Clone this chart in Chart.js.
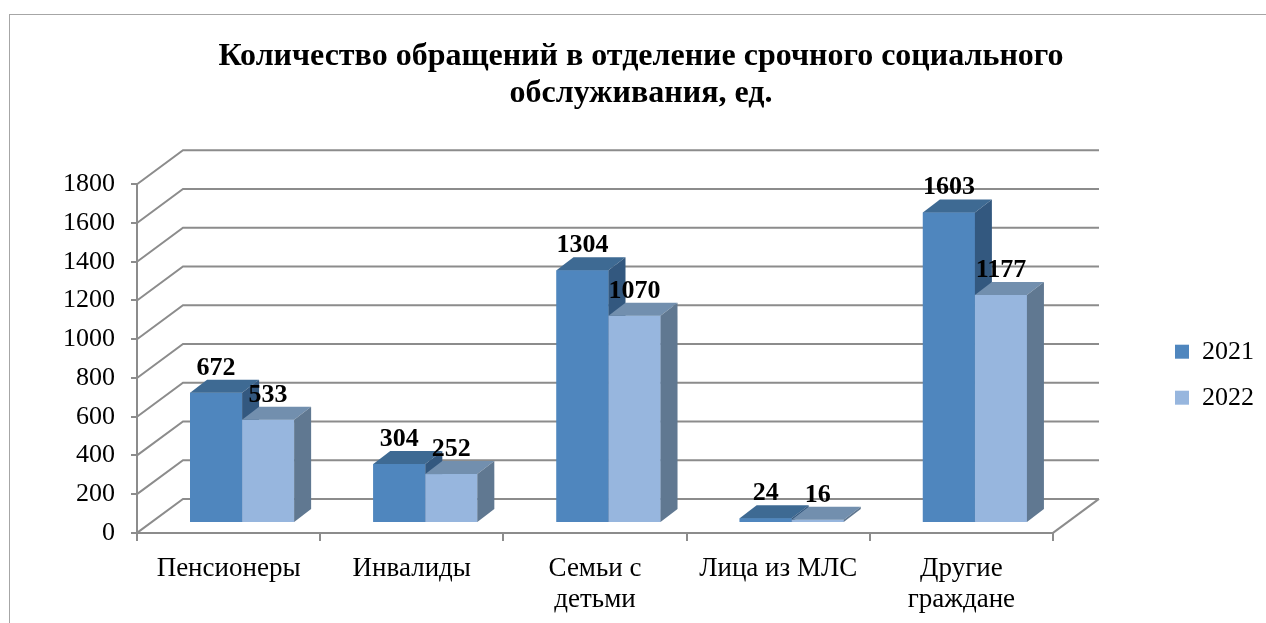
<!DOCTYPE html>
<html>
<head>
<meta charset="utf-8">
<script src="https://cdn.jsdelivr.net/npm/chart.js@4/dist/chart.umd.min.js"></script>
<style>
  html, body { margin: 0; padding: 0; background: #fff; }
  body { width: 1266px; height: 623px; overflow: hidden; position: relative; }
  #frame { position: absolute; left: 9px; top: 14px; width: 1300px; height: 700px; border: 1px solid #a6a6a6; }
  #wrap { position: absolute; left: 0; top: 0; width: 1266px; height: 623px; }
</style>
</head>
<body>
<div id="frame"></div>
<div id="wrap"><canvas id="chart"></canvas></div>
<script>
const categories = ['Пенсионеры', 'Инвалиды', ['Семьи с', 'детьми'], 'Лица из МЛС', ['Другие', 'граждане']];
const values2021 = [672, 304, 1304, 24, 1603];
const values2022 = [533, 252, 1070, 16, 1177];
const yTicks = { min: 0, max: 1800, step: 200 };

const FONT = 'Liberation Serif';
const GRID = '#8c8c8c';

// oblique projection offsets for the fake 3D look
const WALL = { dx: 46, dy: -34 };
const SHIFT = { dx: 13.5, dy: -10 };
const DEPTH = { dx: 17, dy: -13 };

const faces = [
  { front: '#4f86be', top: '#3e6a93', side: '#33587f' },
  { front: '#97b6de', top: '#728fae', side: '#607891' }
];

const threeD = {
  id: 'threeD',
  beforeDatasetsDraw(chart) {
    const { ctx, chartArea: a, scales: { y } } = chart;
    ctx.save();
    ctx.strokeStyle = GRID;
    ctx.lineWidth = 2;
    y.ticks.forEach(t => {
      const py = y.getPixelForValue(t.value);
      ctx.beginPath();
      ctx.moveTo(a.left, py);
      ctx.lineTo(a.left + WALL.dx, py + WALL.dy);
      ctx.lineTo(a.right + WALL.dx, py + WALL.dy);
      ctx.stroke();
    });
    ctx.beginPath();
    ctx.moveTo(a.right, a.bottom);
    ctx.lineTo(a.right + WALL.dx, a.bottom + WALL.dy);
    ctx.stroke();
    ctx.restore();
    ctx.save();
    ctx.translate(SHIFT.dx, SHIFT.dy);
  },
  afterDatasetsDraw(chart) {
    const { ctx } = chart;
    chart.data.datasets.forEach((ds, d) => {
      const c = faces[d];
      chart.getDatasetMeta(d).data.forEach(el => {
        const { x, y, base, width } = el.getProps(['x', 'y', 'base', 'width'], true);
        const l = x - width / 2, r = x + width / 2;
        ctx.fillStyle = c.front;
        ctx.fillRect(l, y, width, base - y);
        ctx.fillStyle = c.top;
        ctx.beginPath();
        ctx.moveTo(l, y);
        ctx.lineTo(l + DEPTH.dx, y + DEPTH.dy);
        ctx.lineTo(r + DEPTH.dx, y + DEPTH.dy);
        ctx.lineTo(r, y);
        ctx.closePath();
        ctx.fill();
        ctx.fillStyle = c.side;
        ctx.beginPath();
        ctx.moveTo(r, y);
        ctx.lineTo(r + DEPTH.dx, y + DEPTH.dy);
        ctx.lineTo(r + DEPTH.dx, base + DEPTH.dy);
        ctx.lineTo(r, base);
        ctx.closePath();
        ctx.fill();
      });
    });
    // value labels
    ctx.fillStyle = '#000';
    ctx.font = 'bold 26px "' + FONT + '"';
    ctx.textAlign = 'center';
    ctx.textBaseline = 'alphabetic';
    chart.data.datasets.forEach((ds, d) => {
      chart.getDatasetMeta(d).data.forEach((el, i) => {
        const { x, y } = el.getProps(['x', 'y'], true);
        ctx.fillText(String(ds.data[i]), x, y + DEPTH.dy - 5);
      });
    });
    ctx.restore();
  }
};

new Chart(document.getElementById('chart'), {
  type: 'bar',
  data: {
    labels: categories,
    datasets: [
      { label: '2021', data: values2021, backgroundColor: faces[0].front, borderWidth: 0 },
      { label: '2022', data: values2022, backgroundColor: faces[1].front, borderWidth: 0 }
    ]
  },
  options: {
    responsive: true,
    maintainAspectRatio: false,
    animation: false,
    datasets: { bar: { barPercentage: 1, categoryPercentage: 0.568 } },
    layout: { padding: { left: 18, right: 2, top: 0, bottom: -4 } },
    scales: {
      x: {
        grid: { drawOnChartArea: false, tickLength: 8, color: GRID, lineWidth: 2, offset: true },
        border: { display: true, color: GRID, width: 2 },
        ticks: { color: '#000', font: { family: FONT, size: 27, lineHeight: 1.15 }, maxRotation: 0, autoSkip: false, padding: 12 }
      },
      y: {
        min: yTicks.min,
        max: yTicks.max,
        grid: { drawOnChartArea: false, tickLength: 6, color: GRID, lineWidth: 2 },
        border: { display: true, color: GRID, width: 2 },
        ticks: { stepSize: yTicks.step, color: '#000', font: { family: FONT, size: 26 }, padding: 16, callback: v => String(v) },
        afterFit(scale) { scale.width = 119; }
      },
      gap: {
        position: 'right',
        display: true,
        grid: { display: false },
        border: { display: false },
        ticks: { display: false },
        afterFit(scale) { scale.width = 102; }
      }
    },
    plugins: {
      title: {
        display: true,
        text: ['Количество обращений в отделение срочного социального', 'обслуживания, ед.'],
        color: '#000',
        font: { family: FONT, size: 32, weight: 'bold', lineHeight: 1.16 },
        padding: { top: 38, bottom: 72 }
      },
      legend: {
        position: 'right',
        title: { display: true, text: '', padding: { top: 108, bottom: 0 } },
        labels: { color: '#000', font: { family: FONT, size: 26 }, boxWidth: 14, boxHeight: 14, padding: 20 }
      },
      tooltip: { enabled: false }
    }
  },
  plugins: [threeD]
});
</script>
</body>
</html>
